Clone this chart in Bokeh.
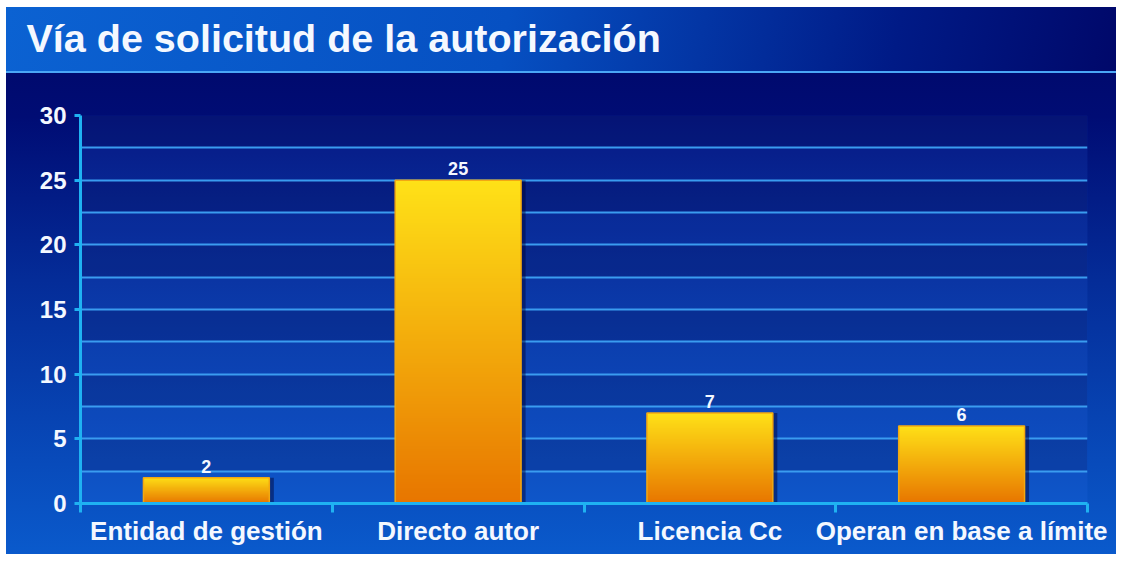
import numpy as np
from bokeh.plotting import figure
from bokeh.models import FixedTicker, Range1d, Title
from bokeh.core.properties import value
from bokeh.embed import file_html
from bokeh.resources import INLINE

# ---- data ----
categories = ["Entidad de gestión", "Directo autor", "Licencia Cc", "Operan en base a límite"]
values = [2, 25, 7, 6]
y_ticks = [0, 5, 10, 15, 20, 25, 30]
title_text = "Vía de solicitud de la autorización"

n = len(categories)
xc = [i + 0.5 for i in range(n)]
FONT = "Liberation Sans"
CYAN = "#1fb2f2"
GRID = "#3a9cf0"
WHITE = "#f4f8ff"

bg_css = (
    "linear-gradient(#4aa6f6, #4aa6f6) 6px 71px / calc(100% - 6px) 2px no-repeat, "
    "linear-gradient(100deg, #0b62d2 0%, #0650c2 45%, #001a86 80%, #00086a 100%) 6px 7px / calc(100% - 6px) 64px no-repeat, "
    "linear-gradient(180deg, #00045e 0%, #000a6e 12%, #000c74 20%, #042c98 50%, #0a5acc 100%) 6px 7px / calc(100% - 6px) calc(100% - 7px) no-repeat, "
    "#ffffff"
)

p = figure(width=1116, height=554, x_range=Range1d(0, n), y_range=Range1d(0, 30),
           output_backend="svg", toolbar_location=None, title=None,
           min_border_left=80, min_border_right=29, min_border_top=115, min_border_bottom=51)
p.styles = {"background": bg_css}
p.border_fill_color = None
p.background_fill_color = "#3d7dff"
p.background_fill_alpha = 0.12
p.outline_line_color = None

# title: an empty second line reserves the space between title and frame
p.add_layout(Title(text=title_text + "\n", align="left", offset=-54, standoff=0,
                   text_color=WHITE, text_font=FONT, text_font_style="bold",
                   text_font_size="39.5px", text_line_height=1.27), "above")

# grid with alternating bands (darker band on [2.5, 5], [7.5, 10], ...)
p.xgrid.visible = False
p.ygrid.ticker = FixedTicker(ticks=list(np.arange(0, 30.01, 2.5)))
p.ygrid.grid_line_color = GRID
p.ygrid.grid_line_width = 2
p.ygrid.band_fill_color = "#00003a"
p.ygrid.band_fill_alpha = 0.2

# y axis
ya = p.yaxis[0]
ya.ticker = FixedTicker(ticks=y_ticks)
ya.axis_line_color = CYAN
ya.axis_line_width = 3
ya.major_tick_line_color = CYAN
ya.major_tick_line_width = 3
ya.major_tick_out = 6
ya.major_tick_in = 0
ya.minor_tick_line_color = None
ya.major_label_standoff = 8
ya.major_label_text_color = WHITE
ya.major_label_text_font = FONT
ya.major_label_text_font_style = "bold"
ya.major_label_text_font_size = "24px"

# x axis
xa = p.below[0]
xa.ticker = FixedTicker(ticks=xc, minor_ticks=list(range(n + 1)))
xa.major_label_overrides = {x: c for x, c in zip(xc, categories)}
xa.axis_line_color = CYAN
xa.axis_line_width = 3
xa.major_tick_line_color = None
xa.major_tick_out = 0
xa.major_tick_in = 0
xa.minor_tick_line_color = CYAN
xa.minor_tick_line_width = 3
xa.minor_tick_out = 9
xa.minor_tick_in = 0
xa.major_label_standoff = 3
xa.major_label_text_color = WHITE
xa.major_label_text_font = FONT
xa.major_label_text_font_style = "bold"
xa.major_label_text_font_size = "26px"

# bar shadow
p.vbar(x=[c + 0.018 for c in xc], top=values, width=0.5, fill_color="#000030",
       fill_alpha=0.45, line_color=None)

# bar gradient (yellow top -> orange bottom)
N = 256
t = np.linspace(0.0, 1.0, N)[:, None]
top_c = np.array([255, 226, 24])
bot_c = np.array([232, 118, 0])
rgb = (bot_c + (top_c - bot_c) * t).astype(np.uint8)
img = np.zeros((N, 1), dtype=np.uint32)
view = img.view(dtype=np.uint8).reshape((N, 1, 4))
view[:, 0, 0] = rgb[:, 0]
view[:, 0, 1] = rgb[:, 1]
view[:, 0, 2] = rgb[:, 2]
view[:, 0, 3] = 255
p.image_rgba(image=[img] * n, x=[c - 0.25 for c in xc], y=[0] * n, dw=[0.5] * n, dh=values)

p.vbar(x=xc, top=values, width=0.5, fill_color=None, line_color="#f2a812", line_width=1.5)

# value labels
p.text(x=xc, y=values, text=[str(v) for v in values], text_align="center",
       text_baseline="bottom", y_offset=-5, text_color=WHITE,
       text_font=value(FONT), text_font_style="bold", text_font_size="18px")

open("out.html", "w").write(file_html(p, INLINE))
